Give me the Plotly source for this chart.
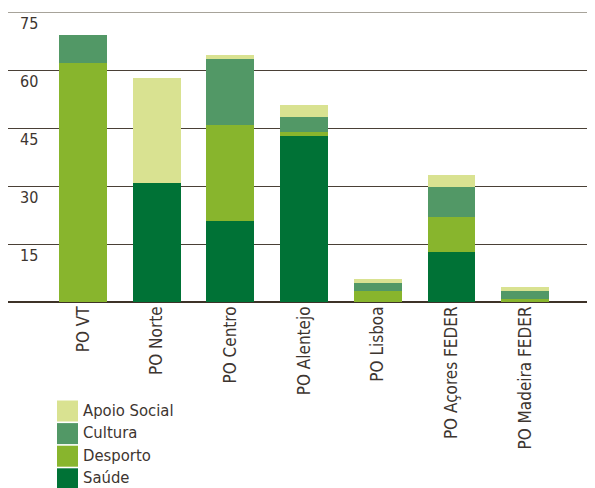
import plotly.graph_objects as go

categories = ["PO VT", "PO Norte", "PO Centro", "PO Alentejo", "PO Lisboa",
              "PO Açores FEDER", "PO Madeira FEDER"]
saude = [0, 30.8, 21.0, 42.9, 0, 12.9, 0]
desporto = [61.8, 0, 24.8, 1.1, 2.8, 9.1, 0.8]
cultura = [7.2, 0, 17.0, 3.8, 2.1, 7.7, 2.0]
apoio_social = [0, 27.1, 1.1, 3.1, 1.0, 3.1, 1.1]
y_ticks = [15, 30, 45, 60, 75]

series = [
    ("Saúde", saude, "#007236"),
    ("Desporto", desporto, "#88b52d"),
    ("Cultura", cultura, "#529866"),
    ("Apoio Social", apoio_social, "#d9e291"),
]

FONT = "DejaVu Sans Condensed, Liberation Sans Narrow, Roboto, sans-serif"
TXT = "#3d3530"

fig = go.Figure()
for name, vals, col in series:
    fig.add_trace(go.Bar(x=categories, y=vals, name=name, marker_color=col,
                         marker_line_width=0, width=0.65, showlegend=False))

# custom legend (top to bottom: Apoio Social, Cultura, Desporto, Saúde)
W, H = 587.0, 290.0
for i, (name, vals, col) in enumerate(reversed(series)):
    top = 400.5 + i * 22.6
    y0 = (302 - (top + 21)) / H
    y1 = (302 - top) / H
    fig.add_shape(type="rect", xref="paper", yref="paper",
                  x0=(57 - 8) / W, x1=(78 - 8) / W, y0=y0, y1=y1,
                  fillcolor=col, line_width=0)
    fig.add_annotation(xref="paper", yref="paper", x=(82 - 8) / W,
                       y=(y0 + y1) / 2, text=name, showarrow=False,
                       xanchor="left", yanchor="middle", yshift=1,
                       borderpad=0,
                       font=dict(family=FONT, size=16.5, color=TXT))

# lighter top rule, as in the reference
fig.add_hline(y=y_ticks[-1], line_color="#8a8479", line_width=1.3)

# the page body has an 8px margin, so the figure is 8px smaller each way
fig.update_layout(
    barmode="stack",
    width=587, height=480,
    margin=dict(l=0, r=0, t=4, b=186),
    plot_bgcolor="white", paper_bgcolor="white",
    font=dict(family=FONT, size=15, color=TXT),
    xaxis=dict(range=[-1.018, 6.947], tickangle=-90, ticks="",
               showgrid=False, showline=False, zeroline=False,
               automargin=False,
               tickfont=dict(family=FONT, size=17, color=TXT)),
    yaxis=dict(range=[0, 75], tickvals=y_ticks, showgrid=True,
               gridcolor="#4a4036", gridwidth=1.2,
               zeroline=True, zerolinecolor="#3d3228", zerolinewidth=1.5,
               ticklabelposition="inside bottom", ticks="",
               ticklabelstandoff=9, automargin=False,
               tickfont=dict(family=FONT, size=16, color=TXT)),
)

fig.write_html("out.html")
